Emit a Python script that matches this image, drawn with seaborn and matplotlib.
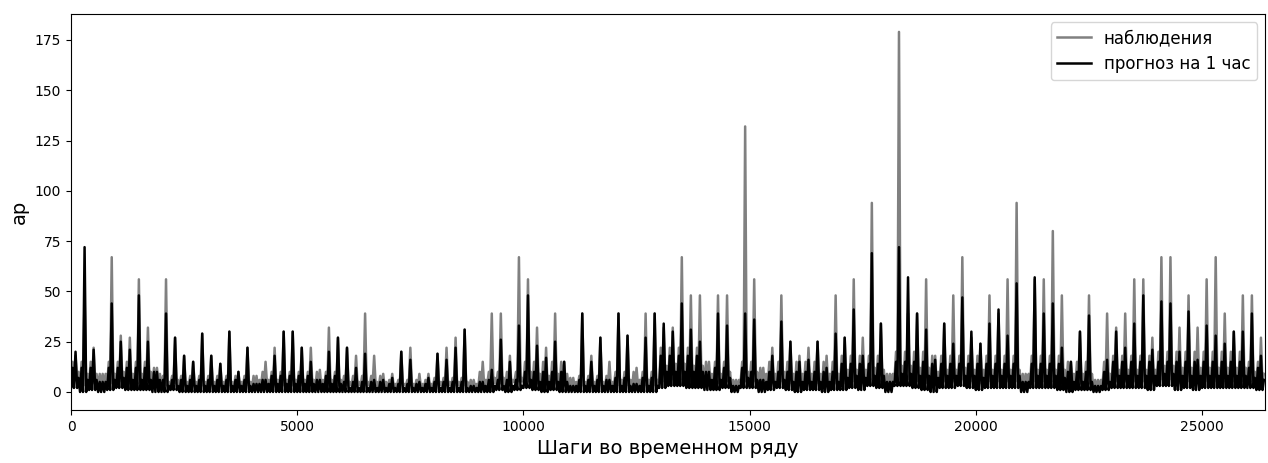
import numpy as np
import pandas as pd
import matplotlib
matplotlib.use("Agg")
import matplotlib.pyplot as plt
import seaborn as sns

# Bucketed readings (200 time steps per bucket): local maxima and minima
bucket_size = 200
obs_hi = [18, 48, 22, 9, 67, 28, 27, 56, 32, 12,
          56, 27, 18, 15, 29, 18, 14, 30, 10, 22,
          8, 15, 22, 30, 30, 22, 22, 11, 32, 27,
          22, 18, 39, 18, 9, 9, 20, 22, 9, 9,
          19, 22, 27, 31, 6, 15, 39, 39, 18, 67,
          56, 32, 22, 39, 15, 7, 39, 18, 27, 15,
          39, 28, 12, 39, 39, 32, 32, 67, 48, 48,
          15, 48, 48, 6, 132, 56, 12, 22, 48, 25,
          18, 22, 25, 18, 48, 27, 56, 27, 94, 34,
          9, 179, 39, 39, 56, 18, 34, 48, 67, 27,
          24, 48, 39, 56, 94, 9, 56, 56, 80, 48,
          15, 30, 48, 6, 39, 32, 39, 56, 56, 27,
          67, 67, 32, 48, 32, 56, 67, 39, 30, 48,
          48, 27]
fc_hi = [20, 72, 21, 5, 44, 25, 21, 48, 25, 10,
         39, 27, 18, 15, 29, 18, 14, 30, 10, 22,
         4, 6, 18, 30, 30, 22, 15, 6, 20, 27,
         22, 12, 19, 6, 6, 7, 20, 16, 5, 7,
         19, 16, 22, 31, 3, 5, 11, 26, 15, 33,
         48, 23, 17, 25, 15, 3, 39, 15, 27, 6,
         39, 28, 4, 27, 39, 34, 30, 44, 31, 25,
         10, 39, 33, 3, 39, 36, 6, 18, 35, 25,
         15, 16, 25, 12, 29, 27, 41, 18, 69, 34,
         5, 72, 57, 39, 31, 16, 34, 24, 47, 30,
         24, 34, 41, 28, 54, 5, 57, 39, 44, 22,
         15, 30, 38, 3, 16, 30, 22, 34, 48, 21,
         45, 44, 20, 40, 16, 33, 28, 24, 30, 30,
         39, 18]
obs_lo = [5, 3, 4, 3, 4, 5, 4, 4, 5, 3,
          3, 4, 3, 3, 3, 3, 3, 3, 2, 3,
          2, 3, 3, 3, 3, 3, 3, 2, 3, 3,
          3, 3, 3, 3, 2, 2, 3, 3, 2, 2,
          3, 3, 3, 3, 2, 2, 4, 4, 3, 5,
          5, 4, 2, 4, 3, 2, 3, 3, 3, 2,
          3, 3, 2, 3, 3, 5, 6, 6, 5, 5,
          4, 4, 5, 2, 5, 5, 3, 4, 5, 4,
          3, 4, 4, 3, 4, 4, 5, 4, 6, 5,
          2, 6, 6, 5, 4, 3, 5, 5, 6, 5,
          4, 5, 5, 5, 5, 2, 5, 5, 5, 4,
          3, 4, 4, 2, 4, 5, 5, 5, 5, 4,
          6, 6, 4, 5, 4, 5, 5, 5, 5, 5,
          5, 4]
fc_lo = [2, 0, 1, 0, 1, 2, 1, 1, 1, 0,
         0, 1, 0, 0, 0, 0, 0, 0, 0, 0,
         0, 0, 0, 0, 0, 0, 0, 0, 0, 0,
         0, 0, 0, 0, 0, 0, 0, 0, 0, 0,
         0, 0, 0, 0, 0, 0, 0, 1, 0, 1,
         2, 1, 0, 1, 0, 0, 0, 0, 0, 0,
         0, 0, 0, 0, 0, 2, 3, 3, 2, 2,
         1, 1, 2, 0, 2, 2, 0, 1, 2, 1,
         0, 1, 1, 0, 1, 1, 2, 1, 3, 2,
         0, 3, 3, 2, 1, 0, 2, 2, 3, 2,
         1, 2, 2, 2, 2, 0, 2, 2, 2, 1,
         0, 1, 1, 0, 1, 2, 2, 2, 2, 1,
         3, 3, 1, 2, 1, 2, 2, 2, 2, 2,
         2, 1]
# Typical level of the dense noise band, per 1000 steps
band_size = 1000
obs_band = [15, 15, 8, 8, 10, 10, 8, 6, 7, 10,
            15, 8, 10, 22, 15, 15, 15, 18, 20, 18,
            18, 18, 15, 18, 20, 20, 15]
fc_band = [12, 12, 6, 6, 8, 8, 5, 4, 5, 6,
           10, 6, 7, 18, 12, 10, 10, 14, 15, 14,
           14, 14, 10, 15, 15, 15, 12]
series_labels = ["наблюдения", "прогноз на 1 час"]
series_colors = ["gray", "black"]
x_label = "Шаги во временном ряду"
y_label = "ap"
n_steps = 26400


def build(hi, lo, band):
    xs, ys = [], []
    for b, (h, l) in enumerate(zip(hi, lo)):
        s = b * bucket_size
        m = min(band[s // band_size], h)
        m2 = min((band[s // band_size] + l) // 2, h)
        offs = [0, 35, 65, 100, 135, 165]
        vals = [l, m, l, h, l, m2]
        xs += [s + o for o in offs]
        ys += vals
    return xs, ys


frames = []
for lab, hi, lo, band in [(series_labels[0], obs_hi, obs_lo, obs_band),
                          (series_labels[1], fc_hi, fc_lo, fc_band)]:
    xs, ys = build(hi, lo, band)
    frames.append(pd.DataFrame({"step": xs, "ap": ys, "series": lab}))
df = pd.concat(frames, ignore_index=True)

fig = plt.figure(figsize=(12.68, 4.63), dpi=100)
ax = fig.add_axes([0.056, 0.1145, 0.942, 0.8555])
for lab, col in zip(series_labels, series_colors):
    sub = df[df["series"] == lab]
    sns.lineplot(data=sub, x="step", y="ap", color=col, label=lab,
                 estimator=None, sort=False, linewidth=1.8, ax=ax)

ax.set_xlim(0, n_steps)
ax.set_xlabel(x_label, fontsize=14)
ax.set_ylabel(y_label, fontsize=14)
ax.legend(loc="upper right", fontsize=12)
fig.savefig("out.png", dpi=100)
